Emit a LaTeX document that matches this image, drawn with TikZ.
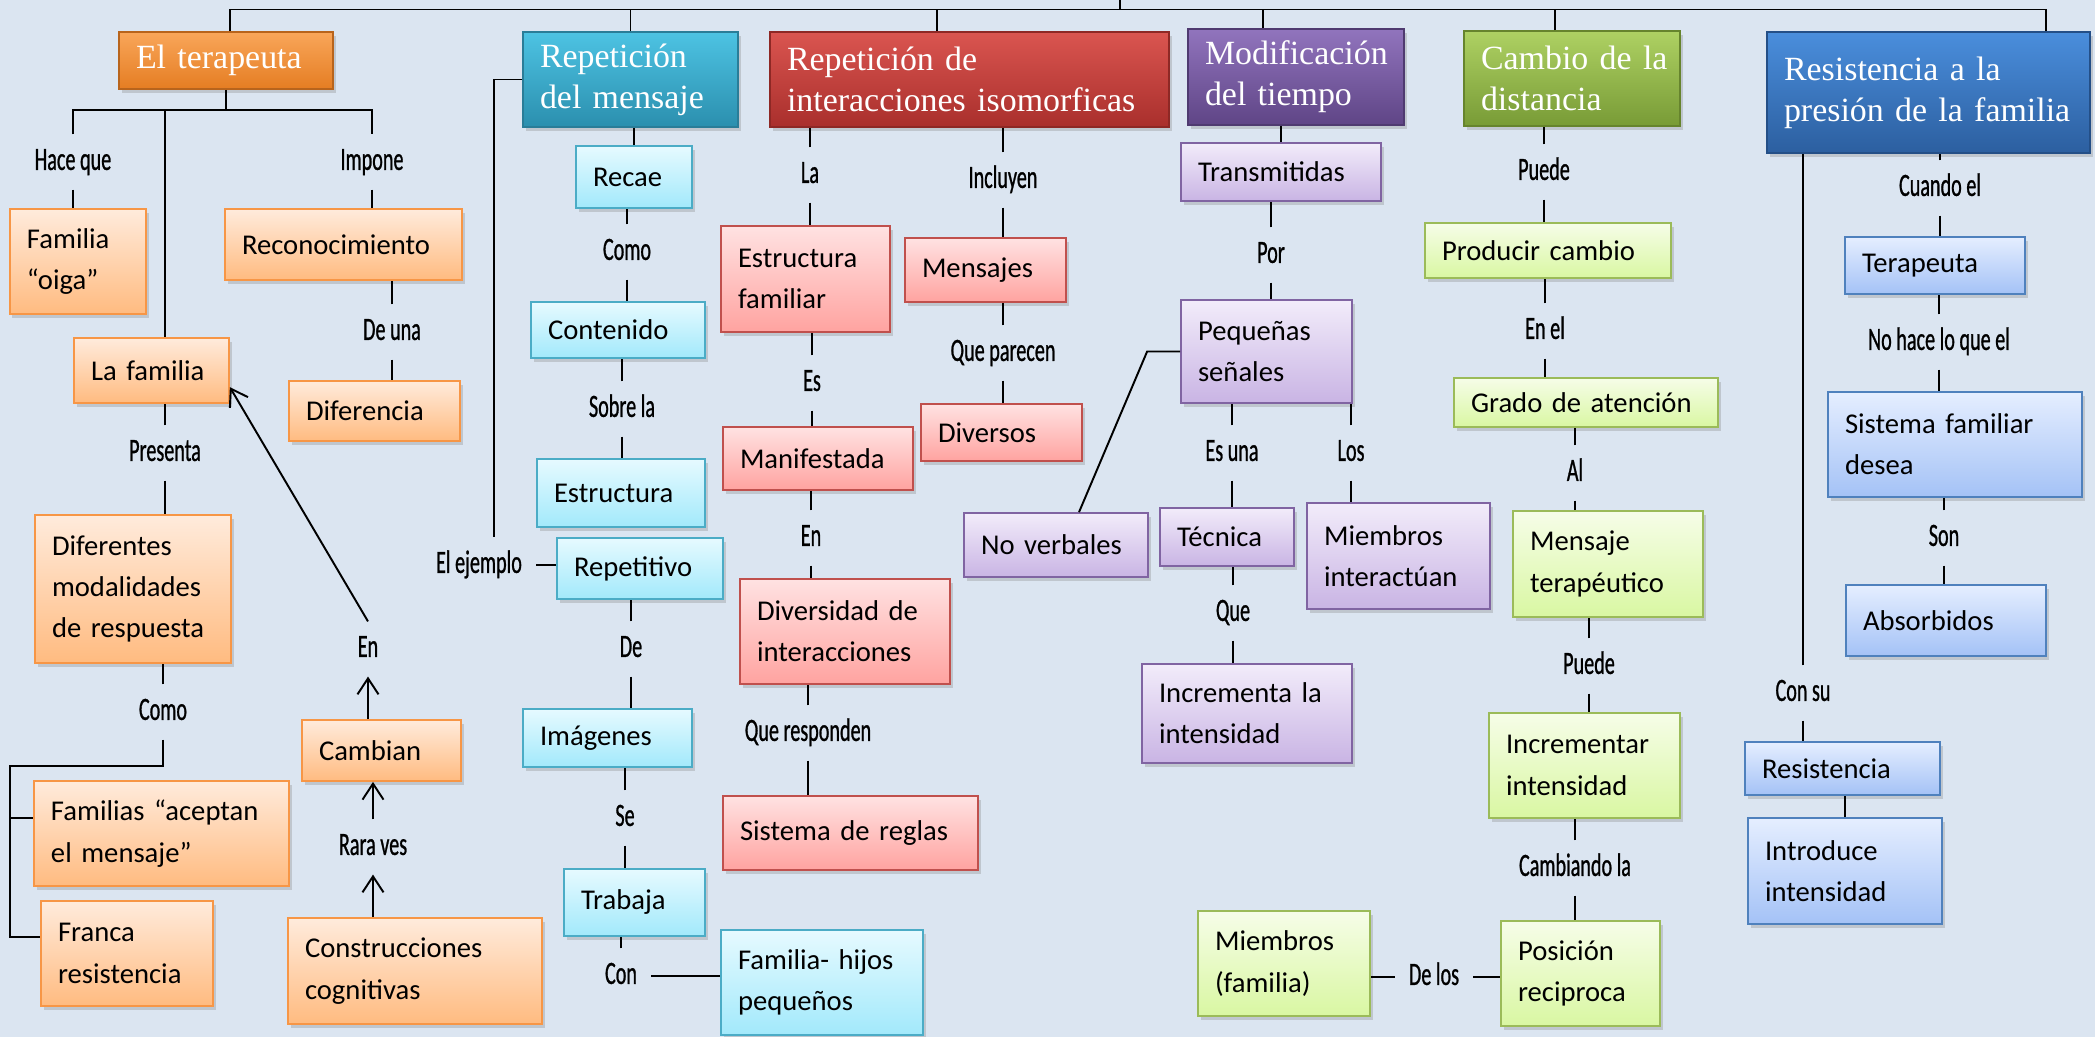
\documentclass[tikz,border=0pt]{standalone}
\usepackage{fontspec}
\setmainfont{Carlito}
\newfontfamily\headfont{Liberation Serif}
\newfontfamily\lblfont[FakeStretch=0.62,FakeBold=0.8]{Carlito}
\usetikzlibrary{arrows.meta,shadows}

\definecolor{bgcol}{HTML}{DBE5F1}
\definecolor{hotop}{HTML}{F9A65A}\definecolor{hobot}{HTML}{E57D22}\definecolor{holine}{HTML}{B8641C}
\definecolor{botop}{HTML}{FFEBDC}\definecolor{bobot}{HTML}{FFBB80}\definecolor{boline}{HTML}{F79646}
\definecolor{httop}{HTML}{4DC3E3}\definecolor{htbot}{HTML}{2B8FAE}\definecolor{htline}{HTML}{2A7D98}
\definecolor{bttop}{HTML}{E6FAFF}\definecolor{btbot}{HTML}{A2E9FB}\definecolor{btline}{HTML}{4BACC6}
\definecolor{hrtop}{HTML}{DA5550}\definecolor{hrbot}{HTML}{A92F2C}\definecolor{hrline}{HTML}{8E2825}
\definecolor{brtop}{HTML}{FFE2E2}\definecolor{brbot}{HTML}{FFA3A0}\definecolor{brline}{HTML}{C0504D}
\definecolor{hptop}{HTML}{9174BD}\definecolor{hpbot}{HTML}{5F4586}\definecolor{hpline}{HTML}{4F3A70}
\definecolor{bptop}{HTML}{F2ECFA}\definecolor{bpbot}{HTML}{C9B4E4}\definecolor{bpline}{HTML}{8064A2}
\definecolor{hgtop}{HTML}{AED163}\definecolor{hgbot}{HTML}{789B36}\definecolor{hgline}{HTML}{66842D}
\definecolor{bgtop}{HTML}{F6FDE8}\definecolor{bgbot}{HTML}{D9F7A2}\definecolor{bgline}{HTML}{9BBB59}
\definecolor{hbtop}{HTML}{4A8EDC}\definecolor{hbbot}{HTML}{2C5FA0}\definecolor{hbline}{HTML}{244F87}
\definecolor{bbtop}{HTML}{E5EEFF}\definecolor{bbbot}{HTML}{A4C2F6}\definecolor{bbline}{HTML}{4F81BD}

\begin{document}
\begin{tikzpicture}[x=0.02cm, y=-0.02cm]
  \tikzset{sz/.code 2 args = {\pgfmathsetlengthmacro\boxw{#1*0.02cm}\pgfmathsetlengthmacro\boxh{#2*0.02cm}\pgfmathsetlengthmacro\textw{(#1-34)*0.02cm}\edef\tmpkeys{\noexpand\pgfkeysalso{minimum width=\boxw, minimum height=\boxh, text width=\textw}}\tmpkeys}}
  \tikzset{box/.style = {draw, rectangle, line width=1pt, align=left, inner xsep=0.34cm, inner ysep=2pt, font=\fontsize{16.3}{23.5}\selectfont, drop shadow={shadow xshift=0.05cm, shadow yshift=-0.08cm, opacity=0.3}}}
  \tikzset{head/.style = {box, text=white, font=\headfont\fontsize{19.3}{23.5}\selectfont}}
  \tikzset{lbl/.style = {font=\lblfont\fontsize{18.5}{20}\selectfont, inner xsep=0.28cm, inner ysep=7pt, text height=13pt, text depth=4pt}}
  \tikzset{link/.style = {line width=1.1pt}}
  \tikzset{arr/.style = {link, -{Straight Barb[length=0.32cm, width=0.42cm]}}}
  \tikzset{horange/.style = {head, draw=holine, top color=hotop, bottom color=hobot}}
  \tikzset{borange/.style = {box, draw=boline, top color=botop, bottom color=bobot}}
  \tikzset{hteal/.style = {head, draw=htline, top color=httop, bottom color=htbot}}
  \tikzset{bteal/.style = {box, draw=btline, top color=bttop, bottom color=btbot}}
  \tikzset{hred/.style = {head, draw=hrline, top color=hrtop, bottom color=hrbot}}
  \tikzset{bred/.style = {box, draw=brline, top color=brtop, bottom color=brbot}}
  \tikzset{hpurple/.style = {head, draw=hpline, top color=hptop, bottom color=hpbot}}
  \tikzset{bpurple/.style = {box, draw=bpline, top color=bptop, bottom color=bpbot}}
  \tikzset{hgreen/.style = {head, draw=hgline, top color=hgtop, bottom color=hgbot}}
  \tikzset{bgreen/.style = {box, draw=bgline, top color=bgtop, bottom color=bgbot}}
  \tikzset{hblue/.style = {head, draw=hbline, top color=hbtop, bottom color=hbbot}}
  \tikzset{bblue/.style = {box, draw=bbline, top color=bbtop, bottom color=bbbot}}

  \useasboundingbox (0,0) rectangle (2095,1037);
  \fill[bgcol] (0,0) rectangle (2095,1037);

	% main branches
	\node[horange, sz={214}{57}] (terap) at (226,60.5) {\mbox{El terapeuta}};
	\node[hteal, sz={215}{95}] (repmsg) at (630.5,79.5) {Repetición\\\mbox{del mensaje}};
	\node[hred, sz={399}{95}] (repint) at (969.5,79.5) {\mbox{Repetición de}\\\mbox{interacciones isomorficas}};
	\node[hpurple, sz={216}{96}] (modt) at (1296,77) {Modificación\\\mbox{del tiempo}};
	\node[hgreen, sz={216}{95}] (cambd) at (1572,78.5) {\mbox{Cambio de la}\\distancia};
	\node[hblue, sz={323}{121}] (resis) at (1928.5,92.5) {\mbox{Resistencia a la}\\\mbox{presión de la familia}};

	% el terapeuta
	\node[borange, sz={136}{105}] (famoiga) at (78,261.5) {Familia\\“oiga”};
	\node[borange, sz={237}{71}] (recon) at (343.5,244.5) {Reconocimiento};
	\node[borange, sz={155}{65}] (lafam) at (151.5,370.5) {\mbox{La familia}};
	\node[borange, sz={171}{60}] (difer) at (374.5,411) {Diferencia};
	\node[borange, sz={196}{148}] (difmod) at (133,589) {Diferentes\\modalidades\\\mbox{de respuesta}};
	\node[borange, sz={255}{105}] (famacep) at (161.5,833.5) {\mbox{Familias “aceptan}\\\mbox{el mensaje”}};
	\node[borange, sz={172}{105}] (franca) at (127,953.5) {Franca\\resistencia};
	\node[borange, sz={159}{61}] (cambian) at (381.5,750.5) {Cambian};
	\node[borange, sz={254}{106}] (constr) at (415,971) {Construcciones\\cognitivas};

	% repeticion del mensaje
	\node[bteal, sz={116}{62}] (recae) at (634,177) {Recae};
	\node[bteal, sz={174}{56}] (conten) at (618,330) {Contenido};
	\node[bteal, sz={168}{68}] (estruc) at (621,493) {Estructura};
	\node[bteal, sz={166}{61}] (repet) at (640,568.5) {Repetitivo};
	\node[bteal, sz={169}{58}] (imag) at (607.5,738) {Imágenes};
	\node[bteal, sz={141}{67}] (trab) at (634.5,902.5) {Trabaja};
	\node[bteal, sz={202}{105}] (famhij) at (822,982.5) {\mbox{Familia- hijos}\\pequeños};

	% repeticion de interacciones
	\node[bred, sz={169}{106}] (estfam) at (805.5,279) {Estructura\\familiar};
	\node[bred, sz={161}{64}] (mensj) at (985.5,270) {Mensajes};
	\node[bred, sz={190}{63}] (manif) at (818,458.5) {Manifestada};
	\node[bred, sz={161}{57}] (divers) at (1001.5,432.5) {Diversos};
	\node[bred, sz={210}{105}] (divint) at (845,631.5) {\mbox{Diversidad de}\\interacciones};
	\node[bred, sz={255}{74}] (sisreg) at (850.5,833) {\mbox{Sistema de reglas}};

	% modificacion del tiempo
	\node[bpurple, sz={200}{58}] (transm) at (1281,172) {Transmitidas};
	\node[bpurple, sz={171}{103}] (pequen) at (1266.5,351.5) {Pequeñas\\señales};
	\node[bpurple, sz={184}{64}] (noverb) at (1056,545) {\mbox{No verbales}};
	\node[bpurple, sz={134}{58}] (tecn) at (1227,537) {Técnica};
	\node[bpurple, sz={183}{106}] (miemint) at (1398.5,556) {Miembros\\interactúan};
	\node[bpurple, sz={210}{99}] (incrla) at (1247,713.5) {\mbox{Incrementa la}\\intensidad};

	% cambio de la distancia
	\node[bgreen, sz={246}{55}] (prodc) at (1548,250.5) {\mbox{Producir cambio}};
	\node[bgreen, sz={264}{49}] (grado) at (1586,402.5) {\mbox{Grado de atención}};
	\node[bgreen, sz={190}{106}] (menster) at (1608,564) {Mensaje\\terapéutico};
	\node[bgreen, sz={191}{105}] (incint) at (1584.5,765.5) {Incrementar\\intensidad};
	\node[bgreen, sz={159}{105}] (posrec) at (1580.5,973.5) {Posición\\reciproca};
	\node[bgreen, sz={172}{105}] (miemfam) at (1284,963.5) {Miembros\\(familia)};

	% resistencia
	\node[bblue, sz={180}{57}] (terbx) at (1935,265.5) {Terapeuta};
	\node[bblue, sz={254}{105}] (sisfam) at (1955,444.5) {\mbox{Sistema familiar}\\desea};
	\node[bblue, sz={200}{71}] (absor) at (1946,620.5) {Absorbidos};
	\node[bblue, sz={195}{53}] (resbx) at (1842.5,768.5) {Resistencia};
	\node[bblue, sz={194}{106}] (introd) at (1845,871) {Introduce\\intensidad};

	% linking words
	\node[lbl] (hace) at (73,162) {Hace que};
	\node[lbl] (impone) at (372,162) {Impone};
	\node[lbl] (deuna) at (392,332) {De una};
	\node[lbl] (presenta) at (165,453) {Presenta};
	\node[lbl] (como1) at (163,712) {Como};
	\node[lbl] (enA) at (368,649) {En};
	\node[lbl] (rara) at (373,847) {Rara ves};
	\node[lbl] (ejemplo) at (479,565) {El ejemplo};
	\node[lbl] (como2) at (627,252) {Como};
	\node[lbl] (sobre) at (622,409) {Sobre la};
	\node[lbl] (de) at (631,649) {De};
	\node[lbl] (se) at (625,818) {Se};
	\node[lbl] (con) at (621,976) {Con};
	\node[lbl] (la) at (810,175) {La};
	\node[lbl] (es) at (812,383) {Es};
	\node[lbl] (enB) at (811,538) {En};
	\node[lbl] (queresp) at (808,733) {Que responden};
	\node[lbl] (incluyen) at (1003,180) {Incluyen};
	\node[lbl] (queparec) at (1003,353) {Que parecen};
	\node[lbl] (por) at (1271,255) {Por};
	\node[lbl] (esuna) at (1232,453) {Es una};
	\node[lbl] (los) at (1351,453) {Los};
	\node[lbl] (que) at (1233,613) {Que};
	\node[lbl] (puede1) at (1544,172) {Puede};
	\node[lbl] (enel) at (1545,331) {En el};
	\node[lbl] (al) at (1575,473) {Al};
	\node[lbl] (puede2) at (1589,666) {Puede};
	\node[lbl] (cambla) at (1575,868) {Cambiando la};
	\node[lbl] (delos) at (1434,977) {De los};
	\node[lbl] (cuando) at (1940,188) {Cuando el};
	\node[lbl] (nohace) at (1939,342) {No hace lo que el};
	\node[lbl] (son) at (1944,538) {Son};
	\node[lbl] (consu) at (1803,693) {Con su};

	% top bus
	\coordinate (root) at (1120,0);
	\coordinate (bus) at (1120,9.5);
	\draw[link] (root) -- (bus);
	\foreach \h/\s in {terap/0.08,repmsg/0,repint/-0.65,modt/-0.66,cambd/-0.34,resis/2.35}
	{
	\coordinate (d\h) at ([xshift=\s cm]\h.north);
	\draw[link] (d\h) -- (d\h |- bus);
	}
	\draw[link] (dterap |- bus) -- (dresis |- bus);

	% label chains
	\foreach \u/\l/\d in {recon/deuna/difer,lafam/presenta/difmod,recae/como2/conten,conten/sobre/estruc,repet/de/imag,imag/se/trab,repint/la/estfam,estfam/es/manif,manif/enB/divint,divint/queresp/sisreg,repint/incluyen/mensj,mensj/queparec/divers,transm/por/pequen,pequen/esuna/tecn,pequen/los/miemint,tecn/que/incrla,cambd/puede1/prodc,prodc/enel/grado,grado/al/menster,menster/puede2/incint,incint/cambla/posrec,resis/cuando/terbx,terbx/nohace/sisfam,sisfam/son/absor,resis/consu/resbx}
	{
	\draw[link] (\l.north) -- (\l.north |- \u.south);
	\draw[link] (\l.south) -- (\l.south |- \d.north);
	}

	% direct links
	\foreach \from/\to in {repmsg/recae,modt/transm,resbx/introd}
	\draw[link] (\to.north) -- (\to.north |- \from.south);

	% el terapeuta fork
	\coordinate (tbar) at ([yshift=-0.4cm]terap.south);
	\draw[link] (terap.south) -- (tbar);
	\draw[link] (hace.north) |- (tbar) -| (impone.north);
	\draw[link] (hace.south) -- (hace.south |- famoiga.north);
	\draw[link] (impone.south) -- (impone.south |- recon.north);
	\coordinate (lfin) at ([xshift=0.27cm]lafam.north);
	\draw[link] (lfin |- tbar) -- (lfin);

	% como fork
	\coordinate (cbr) at (10,766);
	\draw[link] (como1.north) -- (como1.north |- difmod.south);
	\draw[link] (como1.south) |- (cbr) -- (cbr |- franca.169) -- (franca.169);
	\draw[link] (cbr |- famacep.173) -- (famacep.173);

	% arrows
	\draw[arr] (rara.south |- constr.north) -- (rara.south);
	\draw[arr] (rara.north) -- (rara.north |- cambian.south);
	\draw[arr] (enA.south |- cambian.north) -- (enA.south);
	\draw[arr] (enA.north) -- (lafam.-12);

	% side links
	\coordinate (ejin) at ([xshift=0.3cm]ejemplo.north);
	\draw[link] (repmsg.west) -| (ejin);
	\draw[link] (ejemplo.east) -- (ejemplo.east -| repet.west);
	\draw[link] (con.north) -- (con.north |- trab.south);
	\draw[link] (con.east) -- (con.east -| famhij.west);
	\draw[link] (delos.west) -- (delos.west -| miemfam.east);
	\draw[link] (delos.east) -- (delos.east -| posrec.west);
	\draw[link] (noverb.55) -- ([xshift=-0.66cm]pequen.west) -- (pequen.west);

\end{tikzpicture}
\end{document}
